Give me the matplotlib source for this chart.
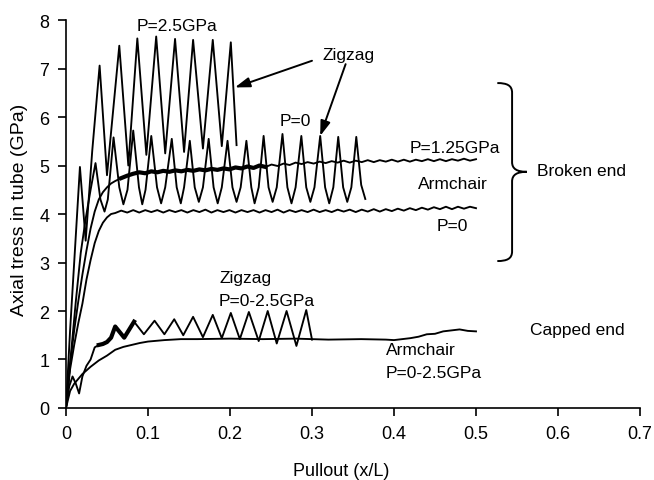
import numpy as np
import matplotlib
matplotlib.use("Agg")
import matplotlib.pyplot as plt
from matplotlib.path import Path
from matplotlib.patches import PathPatch

plt.rcParams['font.family'] = ['Liberation Sans', 'DejaVu Sans']

# ---------------- data ----------------
# Zigzag, broken end, P = 2.5 GPa (peak / trough vertices)
z25_x = [0, 0.005, 0.010, 0.017, 0.024, 0.032, 0.041, 0.050, 0.065, 0.076, 0.087,
         0.098, 0.110, 0.121, 0.133, 0.144, 0.155, 0.167, 0.179, 0.190, 0.201, 0.208]
z25_y = [0, 1.6, 3.0, 4.97, 3.45, 5.3, 7.06, 4.8, 7.47, 5.0, 7.62,
         5.22, 7.66, 5.25, 7.61, 5.28, 7.59, 5.35, 7.59, 5.4, 7.54, 5.42]

# Zigzag, broken end, P = 0 (peaks, shoulders, troughs)
z0_x = [0, 0.006, 0.012, 0.018, 0.024, 0.030, 0.036, 0.042, 0.047, 0.051,
        0.058, 0.065, 0.070, 0.075, 0.082, 0.089, 0.093, 0.097, 0.104, 0.111,
        0.116, 0.121, 0.129, 0.135, 0.140, 0.144, 0.151, 0.157, 0.162, 0.167,
        0.174, 0.180, 0.185, 0.190, 0.197, 0.203, 0.208, 0.213, 0.220, 0.226,
        0.230, 0.235, 0.241, 0.247, 0.252, 0.257, 0.264, 0.270, 0.275, 0.280,
        0.287, 0.293, 0.298, 0.303, 0.310, 0.316, 0.321, 0.326, 0.332, 0.338,
        0.343, 0.348, 0.354, 0.360, 0.365]
z0_y = [0, 1.1, 2.2, 3.2, 3.9, 4.5, 5.05, 4.3, 4.05, 4.3,
        5.58, 4.55, 4.2, 4.5, 5.72, 4.55, 4.2, 4.5, 5.61, 4.55,
        4.22, 4.55, 5.55, 4.55, 4.22, 4.55, 5.51, 4.55, 4.25, 4.55,
        5.55, 4.55, 4.22, 4.55, 5.51, 4.55, 4.25, 4.55, 5.51, 4.55,
        4.22, 4.55, 5.61, 4.55, 4.25, 4.55, 5.65, 4.55, 4.22, 4.55,
        5.61, 4.55, 4.25, 4.55, 5.61, 4.55, 4.22, 4.55, 5.59, 4.55,
        4.25, 4.55, 5.59, 4.6, 4.31]

# Armchair, broken end: initial rise
arm_rise_x = [0, 0.005, 0.010, 0.015, 0.020, 0.025, 0.030, 0.035, 0.040, 0.045, 0.050, 0.055]
a0_rise_y = [0, 0.8, 1.3, 1.75, 2.15, 2.65, 3.05, 3.4, 3.65, 3.82, 3.93, 4.0]
a125_rise_y = [0, 0.9, 1.6, 2.2, 2.75, 3.25, 3.7, 4.05, 4.3, 4.45, 4.55, 4.63]

# Armchair, broken end: plateau sampled from x = 0.06 to 0.5 (61 readings)
plateau_start, plateau_end, plateau_n = 0.06, 0.5, 61
a0_plat_y = [4.02, 4.07, 4.03, 4.08, 4.03, 4.08, 4.04, 4.08, 4.03, 4.08,
             4.04, 4.08, 4.03, 4.08, 4.04, 4.09, 4.03, 4.08, 4.04, 4.08,
             4.03, 4.08, 4.04, 4.08, 4.03, 4.08, 4.04, 4.09, 4.03, 4.08,
             4.04, 4.08, 4.04, 4.09, 4.04, 4.08, 4.04, 4.09, 4.05, 4.09,
             4.04, 4.09, 4.05, 4.10, 4.05, 4.10, 4.06, 4.11, 4.07, 4.12,
             4.08, 4.13, 4.09, 4.14, 4.10, 4.15, 4.10, 4.15, 4.11, 4.15, 4.12]
a125_plat_y = [4.68, 4.74, 4.79, 4.83, 4.86, 4.84, 4.88, 4.86, 4.89, 4.87,
               4.90, 4.88, 4.91, 4.89, 4.92, 4.90, 4.93, 4.91, 4.94, 4.92,
               4.96, 4.94, 4.98, 4.95, 5.00, 4.97, 5.02, 4.99, 5.04, 5.01,
               5.06, 5.03, 5.07, 5.04, 5.08, 5.05, 5.09, 5.06, 5.10, 5.06,
               5.10, 5.07, 5.11, 5.07, 5.11, 5.08, 5.12, 5.08, 5.12, 5.08,
               5.12, 5.09, 5.13, 5.09, 5.13, 5.09, 5.13, 5.10, 5.14, 5.10, 5.13]
a125_noisy_range = (0.065, 0.25)

# Zigzag, capped end, P = 0-2.5 GPa
zc_x = [0, 0.004, 0.008, 0.012, 0.016, 0.020, 0.025, 0.030, 0.035, 0.040, 0.045,
        0.050, 0.055, 0.060, 0.071, 0.083, 0.095, 0.108, 0.120, 0.132, 0.143,
        0.155, 0.167, 0.179, 0.190, 0.201, 0.212, 0.223, 0.235, 0.246, 0.257,
        0.269, 0.281, 0.293, 0.300]
zc_y = [0, 0.45, 0.65, 0.5, 0.3, 0.65, 0.87, 1.0, 1.25, 1.3, 1.32,
        1.36, 1.45, 1.68, 1.45, 1.78, 1.52, 1.80, 1.52, 1.83, 1.50,
        1.88, 1.46, 1.92, 1.44, 1.96, 1.42, 1.98, 1.38, 2.0, 1.33,
        2.0, 1.28, 2.02, 1.41]
zc_noisy_range = (0.04, 0.085)

# Armchair, capped end, P = 0-2.5 GPa
ac_x = [0, 0.005, 0.010, 0.015, 0.020, 0.030, 0.040, 0.050, 0.060, 0.070, 0.080,
        0.090, 0.100, 0.120, 0.140, 0.160, 0.200, 0.240, 0.280, 0.320, 0.360,
        0.390, 0.400, 0.420, 0.430, 0.440, 0.450, 0.460, 0.470, 0.480, 0.490, 0.500]
ac_y = [0, 0.35, 0.5, 0.6, 0.7, 0.85, 0.98, 1.08, 1.2, 1.26, 1.3,
        1.34, 1.37, 1.4, 1.42, 1.42, 1.43, 1.42, 1.43, 1.41, 1.42,
        1.41, 1.40, 1.44, 1.47, 1.52, 1.53, 1.58, 1.60, 1.62, 1.59, 1.58]

x_ticks = [0, 0.1, 0.2, 0.3, 0.4, 0.5, 0.6, 0.7]
x_tick_labels = ['0', '0.1', '0.2', '0.3', '0.4', '0.5', '0.6', '0.7']
y_ticks = [0, 1, 2, 3, 4, 5, 6, 7, 8]

# ---------------- figure ----------------
fig = plt.figure(figsize=(6.54, 4.81), dpi=100)
ax = fig.add_axes([0.1009, 0.1497, 0.8777, 0.8066])

lw = 1.35
col = 'black'

plat_x = np.linspace(plateau_start, plateau_end, plateau_n)
a0_x = np.concatenate([arm_rise_x, plat_x])
a0_y = np.concatenate([a0_rise_y, a0_plat_y])
a125_x = np.concatenate([arm_rise_x, plat_x])
a125_y = np.concatenate([a125_rise_y, a125_plat_y])

ax.plot(z25_x, z25_y, color=col, lw=lw)
ax.plot(z0_x, z0_y, color=col, lw=lw)
ax.plot(a0_x, a0_y, color=col, lw=lw)
ax.plot(a125_x, a125_y, color=col, lw=lw)
m = (a125_x >= a125_noisy_range[0]) & (a125_x <= a125_noisy_range[1])
ax.plot(a125_x[m], a125_y[m], color=col, lw=3.0)
ax.plot(zc_x, zc_y, color=col, lw=lw)
zcx = np.array(zc_x); zcy = np.array(zc_y)
m2 = (zcx >= zc_noisy_range[0]) & (zcx <= zc_noisy_range[1])
ax.plot(zcx[m2], zcy[m2], color=col, lw=3.0)
ax.plot(ac_x, ac_y, color=col, lw=lw)

ax.set_xlim(0, 0.7)
ax.set_ylim(0, 8)
ax.set_xticks(x_ticks)
ax.set_xticklabels(x_tick_labels)
ax.set_yticks(y_ticks)
for s in ['top', 'right']:
    ax.spines[s].set_visible(False)
for s in ['left', 'bottom']:
    ax.spines[s].set_linewidth(1.2)
ax.tick_params(direction='out', length=6, width=1.2, labelsize=13, pad=6)

ax.set_xlabel('Pullout (x/L)', fontsize=13)
ax.xaxis.set_label_coords(0.479, -0.139)
ax.set_ylabel('Axial tress in tube (GPa)', fontsize=14)
ax.yaxis.set_label_coords(-0.066, 0.513)

fs = 12.5
ax.text(0.135, 7.88, 'P=2.5GPa', fontsize=fs, ha='center', va='center')
ax.text(0.345, 7.28, 'Zigzag', fontsize=fs, ha='center', va='center')
ax.text(0.280, 5.92, 'P=0', fontsize=fs, ha='center', va='center')
ax.text(0.474, 5.37, 'P=1.25GPa', fontsize=fs, ha='center', va='center')
ax.text(0.472, 4.62, 'Armchair', fontsize=fs, ha='center', va='center')
ax.text(0.471, 3.76, 'P=0', fontsize=fs, ha='center', va='center')
ax.text(0.629, 4.90, 'Broken end', fontsize=fs, ha='center', va='center')
ax.text(0.1866, 2.70, 'Zigzag', fontsize=fs, ha='left', va='center')
ax.text(0.1866, 2.21, 'P=0-2.5GPa', fontsize=fs, ha='left', va='center')
ax.text(0.390, 1.20, 'Armchair', fontsize=fs, ha='left', va='center')
ax.text(0.390, 0.73, 'P=0-2.5GPa', fontsize=fs, ha='left', va='center')
ax.text(0.624, 1.61, 'Capped end', fontsize=fs, ha='center', va='center')

arrowprops = dict(arrowstyle='-|>,head_length=0.9,head_width=0.3', color='black', lw=1.4,
                  shrinkA=0, shrinkB=0)
ax.annotate('', xy=(0.206, 6.61), xytext=(0.300, 7.16), arrowprops=arrowprops)
ax.annotate('', xy=(0.310, 5.61), xytext=(0.341, 7.09), arrowprops=arrowprops)

# curly brace
bx, tipx, endx = 0.544, 0.562, 0.526
ytop, ymid, ybot = 6.70, 4.87, 3.03
verts = [(endx, ytop), (bx - 0.006, ytop), (bx, ytop - 0.05), (bx, ytop - 0.2),
         (bx, ymid + 0.2),
         (bx, ymid + 0.06), (tipx - 0.012, ymid), (tipx, ymid),
         (tipx - 0.012, ymid), (bx, ymid - 0.06), (bx, ymid - 0.2),
         (bx, ybot + 0.2),
         (bx, ybot + 0.05), (bx - 0.006, ybot), (endx, ybot)]
codes = [Path.MOVETO, Path.CURVE4, Path.CURVE4, Path.CURVE4,
         Path.LINETO,
         Path.CURVE4, Path.CURVE4, Path.CURVE4,
         Path.CURVE4, Path.CURVE4, Path.CURVE4,
         Path.LINETO,
         Path.CURVE4, Path.CURVE4, Path.CURVE4]
ax.add_patch(PathPatch(Path(verts, codes), facecolor='none', edgecolor='black', lw=1.4,
                       clip_on=False))

fig.savefig('out.png', dpi=100)
